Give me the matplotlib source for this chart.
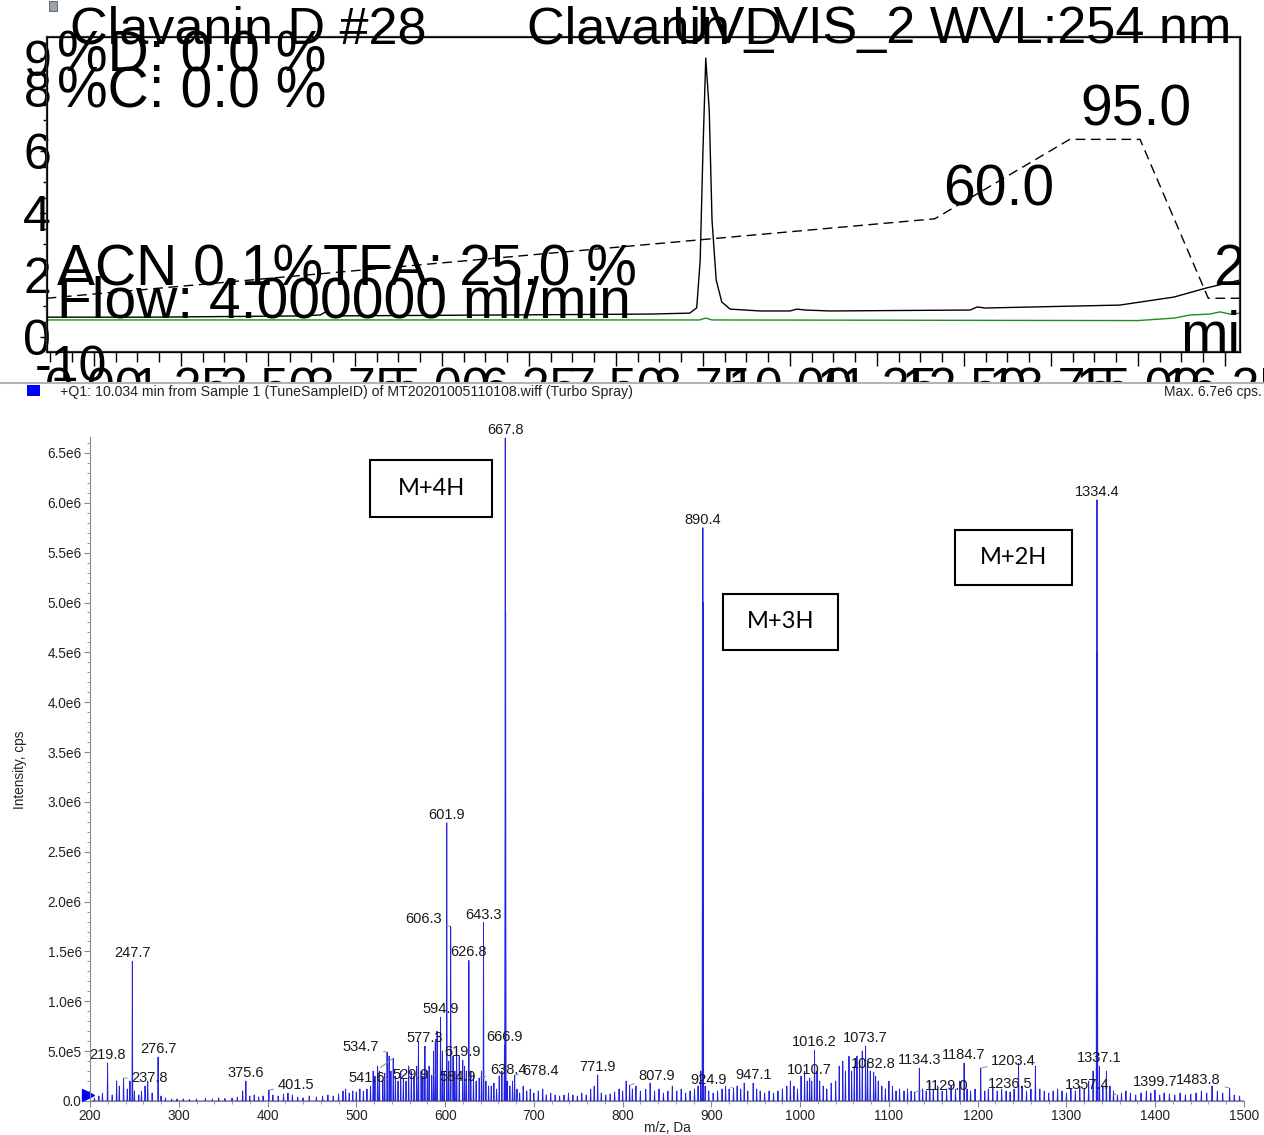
import numpy as np
import matplotlib
matplotlib.use("Agg")
import matplotlib.pyplot as plt
from matplotlib.patches import Rectangle
from matplotlib.lines import Line2D
from matplotlib.ticker import MultipleLocator

plt.rcParams['font.family'] = ['Liberation Sans', 'DejaVu Sans']

W, H = 1264, 1135

# ---------------- chromatogram, UV_VIS_2 at 254 nm ----------------
uv_time = [-0.68, 0.80, 2.96, 3.25, 3.33, 3.42, 5.83, 7.99, 8.56, 8.66, 8.71, 8.75,
           8.79, 8.84, 8.88, 8.94, 9.02, 9.14, 9.57, 10.00, 10.10, 10.22, 10.58,
           12.59, 12.69, 12.80, 14.74, 15.52, 15.98, 16.47]
uv_mau = [6.4, 6.4, 6.8, 7.1, 8.1, 6.8, 7.1, 7.4, 7.7, 9.4, 24.8, 60.3,
          90.0, 73.2, 37.7, 18.4, 11.3, 9.0, 8.4, 8.4, 9.0, 8.7, 8.4,
          8.7, 9.7, 9.35, 10.3, 12.9, 15.8, 18.4]

ref_time = [-0.68, 8.70, 8.79, 8.88, 15.00, 15.52, 15.75, 16.03, 16.18, 16.32, 16.47]
ref_mau = [5.5, 5.5, 6.1, 5.5, 5.3, 6.1, 7.1, 7.4, 8.1, 7.4, 7.7]

# ACN 0.1% TFA gradient (%)
grad_time = [-0.68, 12.08, 14.02, 15.03, 16.01, 16.47]
grad_pct = [25.0, 60.0, 95.0, 95.0, 25.0, 25.0]

uv_ticks = [0, 20, 40, 60, 80, 90]
uv_ticklabels = ['0', '2', '4', '6', '8', '9']
time_ticks = [0.0, 1.25, 2.5, 3.75, 5.0, 6.25, 7.5, 8.75, 10.0, 11.25,
              12.5, 13.75, 15.0, 16.25]
time_ticklabels = ['%.2f' % t for t in time_ticks]

# ---------------- Q1 spectrum at 10.034 min ----------------
label_mz = [219.8, 237.8, 247.7, 276.7, 375.6, 401.5, 529.9, 534.7, 541.6, 577.3,
            584.9, 594.9, 601.9, 606.3, 619.9, 626.8, 638.4, 643.3, 666.9, 667.8,
            678.4, 771.9, 807.9, 890.4, 924.9, 947.1, 1010.7, 1016.2, 1073.7, 1082.8,
            1129.0, 1134.3, 1184.7, 1203.4, 1236.5, 1334.4, 1337.1, 1357.4, 1399.7, 1483.8]
label_int = [0.38, 0.23, 1.40, 0.44, 0.20, 0.11, 0.21, 0.49, 0.43, 0.55,
             0.26, 0.84, 2.79, 1.75, 0.41, 1.41, 0.23, 1.79, 0.56, 6.65,
             0.26, 0.26, 0.16, 5.75, 0.13, 0.18, 0.23, 0.51, 0.55, 0.29,
             0.09, 0.33, 0.38, 0.33, 0.09, 6.03, 0.35, 0.06, 0.11, 0.13]  # x1e6

bg_mz = [205, 210, 214, 225, 230, 233, 242, 245, 250, 255, 258, 262, 265, 270, 280,
         285, 292, 298, 305, 312, 320, 330, 338, 345, 352, 360, 366, 372, 380, 385,
         390, 395, 406, 412, 418, 423, 428, 434, 440, 447, 455, 462, 468, 474, 480,
         485, 488, 492, 496, 500, 504, 508, 512, 516, 519, 521, 524, 526, 532, 537,
         539, 544, 547, 550, 553, 556, 559, 562, 565, 568, 570, 573, 575, 580, 582,
         587, 589, 591, 597, 599, 604, 609, 611, 613, 616, 622, 624, 629, 632, 635,
         641, 646, 649, 652, 655, 658, 661, 664, 668.2, 670, 673, 676, 681, 684, 688, 692,
         696, 700, 705, 710, 714, 719, 724, 729, 734, 739, 744, 749, 754, 759, 764,
         768, 776, 781, 786, 791, 796, 800, 804, 811, 815, 820, 826, 831, 836, 841,
         846, 851, 856, 861, 866, 871, 876, 881, 885, 888, 890.0, 890.8, 893, 897, 902,
         907, 912, 916, 920, 929, 933, 937, 941, 951, 955, 960, 965, 970, 975, 980,
         985, 989, 993, 997, 1001, 1005, 1008, 1013, 1019, 1022, 1026, 1030, 1035, 1040,
         1044, 1048, 1051, 1055, 1058, 1061, 1064, 1067, 1070, 1076, 1079, 1085, 1088,
         1092, 1096, 1100, 1104, 1108, 1112, 1117, 1121, 1125, 1138, 1142, 1146, 1150,
         1155, 1160, 1165, 1170, 1175, 1180, 1188, 1192, 1197, 1208, 1212, 1217, 1222,
         1227, 1232, 1241, 1246, 1250, 1255, 1260, 1265, 1270, 1275, 1280, 1285, 1290,
         1295, 1300, 1305, 1310, 1315, 1320, 1325, 1330, 1334.0, 1334.8, 1341, 1345,
         1349, 1353, 1362, 1367, 1372, 1378, 1384, 1390, 1395, 1405, 1410, 1416, 1422,
         1428, 1434, 1440, 1446, 1452, 1458, 1464, 1470, 1476, 1489, 1495]
bg_int = [0.03, 0.05, 0.08, 0.06, 0.20, 0.15, 0.12, 0.20, 0.10, 0.06, 0.10, 0.15, 0.20, 0.08, 0.05,
          0.03, 0.02, 0.02, 0.02, 0.015, 0.02, 0.025, 0.02, 0.03, 0.025, 0.03, 0.04, 0.10, 0.05, 0.06,
          0.04, 0.05, 0.06, 0.05, 0.07, 0.08, 0.06, 0.04, 0.03, 0.05, 0.04, 0.05, 0.06, 0.05, 0.07,
          0.10, 0.12, 0.08, 0.10, 0.09, 0.12, 0.10, 0.12, 0.15, 0.30, 0.25, 0.35, 0.30, 0.28, 0.45,
          0.30, 0.25, 0.20, 0.30, 0.22, 0.20, 0.35, 0.30, 0.25, 0.35, 0.60, 0.30, 0.25, 0.30, 0.35,
          0.50, 0.60, 0.70, 0.50, 0.30, 0.40, 0.45, 0.30, 0.50, 0.45, 0.35, 0.30, 0.30, 0.25, 0.20,
          0.30, 0.20, 0.15, 0.15, 0.18, 0.12, 0.25, 0.30, 4.90, 0.20, 0.15, 0.20, 0.12, 0.08, 0.15, 0.10,
          0.12, 0.08, 0.10, 0.12, 0.06, 0.08, 0.06, 0.05, 0.06, 0.08, 0.06, 0.05, 0.08, 0.06, 0.12,
          0.15, 0.08, 0.06, 0.07, 0.09, 0.12, 0.10, 0.20, 0.12, 0.15, 0.10, 0.12, 0.18, 0.10, 0.12,
          0.08, 0.10, 0.15, 0.10, 0.12, 0.08, 0.10, 0.12, 0.15, 0.30, 5.00, 5.00, 0.15, 0.10, 0.08,
          0.10, 0.12, 0.15, 0.12, 0.15, 0.12, 0.18, 0.10, 0.12, 0.10, 0.08, 0.10, 0.08, 0.10, 0.12,
          0.15, 0.20, 0.15, 0.12, 0.25, 0.30, 0.20, 0.20, 0.30, 0.20, 0.15, 0.12, 0.18, 0.20,
          0.35, 0.40, 0.30, 0.45, 0.30, 0.35, 0.45, 0.40, 0.50, 0.40, 0.30, 0.25, 0.20,
          0.15, 0.12, 0.20, 0.15, 0.10, 0.12, 0.10, 0.12, 0.10, 0.12, 0.10, 0.20, 0.12,
          0.15, 0.10, 0.12, 0.15, 0.12, 0.20, 0.12, 0.10, 0.12, 0.10, 0.12, 0.15, 0.10,
          0.12, 0.10, 0.12, 0.38, 0.15, 0.10, 0.12, 0.35, 0.12, 0.10, 0.08, 0.10, 0.12,
          0.10, 0.08, 0.12, 0.10, 0.15, 0.12, 0.20, 0.30, 4.50, 4.50, 0.15, 0.30,
          0.15, 0.10, 0.08, 0.10, 0.08, 0.06, 0.08, 0.10, 0.08, 0.06, 0.08, 0.07, 0.06,
          0.08, 0.06, 0.07, 0.08, 0.10, 0.08, 0.15, 0.10, 0.08, 0.06, 0.05]

ms_yticks = [0.0, 0.5, 1.0, 1.5, 2.0, 2.5, 3.0, 3.5, 4.0, 4.5, 5.0, 5.5, 6.0, 6.5]
ms_yticklabels = ['0.0', '5.0e5', '1.0e6', '1.5e6', '2.0e6', '2.5e6', '3.0e6', '3.5e6',
                  '4.0e6', '4.5e6', '5.0e6', '5.5e6', '6.0e6', '6.5e6']

charge_states = ['M+4H', 'M+3H', 'M+2H']

# label offsets (pixels) for the peaks whose labels are pushed aside with a leader
leader_offsets = {237.8: (26, 0), 401.5: (27, 5), 534.7: (-26, 5), 541.6: (-27, -20),
                  529.9: (28, 5), 584.9: (26, -2), 606.3: (-27, 8), 638.4: (29, 8),
                  678.4: (26, 4), 807.9: (27, 9), 924.9: (-25, 8), 1129.0: (32, 6),
                  1203.4: (33, 7), 1357.4: (-30, 10), 1483.8: (-31, 8)}


def fx(px):
    return px / W


def fy(py):
    return 1 - py / H


fig = plt.figure(figsize=(W / 100, H / 100), dpi=100)

# ---- chromatogram panel ----
ax = fig.add_axes([fx(47), fy(352), fx(1240 - 47), (352 - 37) / H], zorder=1)
ax.plot(uv_time, uv_mau, color='black', lw=1.0)
ax.plot(ref_time, ref_mau, color='#1e8c1e', lw=1.0)
ax.set_xlim(-0.675, 16.466)
ax.set_ylim(-4.84, 96.8)
ax.set_yticks(uv_ticks)
ax.set_yticklabels(uv_ticklabels)
ax.yaxis.set_minor_locator(MultipleLocator(5))
ax.set_xticks(time_ticks)
ax.set_xticklabels(time_ticklabels)
ax.xaxis.set_minor_locator(MultipleLocator(0.3125))
ax.tick_params(axis='y', which='major', length=5, pad=-8, labelsize=36, width=1)
ax.tick_params(axis='y', which='minor', length=3, width=1)
ax.tick_params(axis='x', which='major', length=10, pad=1, labelsize=36, width=1)
ax.tick_params(axis='x', which='minor', length=7, width=1)
for s in ax.spines.values():
    s.set_color('#333333')
    s.set_linewidth(1.6)

ax2 = ax.twinx()
ax2.plot(grad_time, grad_pct, color='black', lw=1.0, dashes=(7, 4))
ax2.set_ylim(1.32, 140.1)
ax2.set_yticks([])
ax2.text(15.6, 0, 'min', transform=ax2.get_xaxis_transform(), fontsize=41,
         va='baseline', ha='left', clip_on=True)
ax2.text(16.08, 30.8, '25.0', fontsize=41, va='baseline', ha='left', clip_on=True)

big = 41
fig.text(fx(943), fy(205), '60.0', fontsize=big, va='baseline')
fig.text(fx(1080), fy(125), '95.0', fontsize=big, va='baseline')
fig.text(fx(57), fy(285), 'ACN 0.1%TFA: 25.0 %', fontsize=big, va='baseline')
fig.text(fx(57), fy(318), 'Flow: 4.000000 ml/min', fontsize=big, va='baseline')
fig.text(fx(57), fy(72), '%D: 0.0 %', fontsize=big, va='baseline')
fig.text(fx(57), fy(107), '%C: 0.0 %', fontsize=big, va='baseline')
fig.text(fx(70), fy(43), 'Clavanin D #28', fontsize=37.5, va='baseline')
fig.text(fx(527), fy(43), 'Clavanin D', fontsize=37.5, va='baseline')
fig.text(fx(672), fy(43), 'UV_VIS_2 WVL:254 nm', fontsize=37.5, va='baseline')
fig.text(fx(35), fy(368), '-10', fontsize=36, va='center', ha='left')
fig.add_artist(Rectangle((fx(49), fy(11)), 8 / W, 10 / H, transform=fig.transFigure,
                         facecolor='#9aa4b0', edgecolor='#555555', lw=0.6))

# white sheet that the spectrum panel sits on
sheet = fig.add_axes([0, 0, 1, fy(383)], zorder=3.5)
sheet.set_facecolor('white')
sheet.set_xticks([])
sheet.set_yticks([])
for s in sheet.spines.values():
    s.set_visible(False)

fig.add_artist(Line2D([0, 1], [fy(383), fy(383)], transform=fig.transFigure,
                      color='#b4b4b4', lw=1.5, zorder=5))
fig.add_artist(Rectangle((fx(27), fy(396)), 13 / W, 11 / H, transform=fig.transFigure,
                         facecolor='#0000ff', edgecolor='none', zorder=5))
fig.text(fx(60), fy(392), '+Q1: 10.034 min from Sample 1 (TuneSampleID) of '
         'MT20201005110108.wiff (Turbo Spray)', fontsize=10.2, va='center',
         color='#222222', zorder=5)
fig.text(fx(1262), fy(392), 'Max. 6.7e6 cps.', fontsize=10, va='center', ha='right',
         color='#222222', zorder=5)

# ---- mass spectrum panel ----
ms = fig.add_axes([fx(90), fy(1101), fx(1244 - 90), (1101 - 437) / H], zorder=4)
ms.set_facecolor('none')

mz_all = np.array(label_mz + bg_mz)
it_all = np.array(label_int + bg_int)
order = np.argsort(mz_all)
prof_x, prof_y = [200.0], [0.0]
for m, h in zip(mz_all[order], it_all[order]):
    prof_x += [m - 0.45, m, m + 0.45]
    prof_y += [0.0, h, 0.0]
prof_x.append(1500.0)
prof_y.append(0.0)
ms.plot(prof_x, prof_y, color='#2222e0', lw=0.65)

ms.set_xlim(200, 1500)
ms.set_ylim(0, 6.66)
ms.set_yticks(ms_yticks)
ms.set_yticklabels(ms_yticklabels)
ms.yaxis.set_minor_locator(MultipleLocator(0.1))
ms.xaxis.set_major_locator(MultipleLocator(100))
ms.xaxis.set_minor_locator(MultipleLocator(20))
ms.tick_params(which='major', length=4, color='#888888', labelsize=9.8,
               labelcolor='#222222', pad=2)
ms.tick_params(which='minor', length=2, color='#888888')
for side in ['top', 'right']:
    ms.spines[side].set_visible(False)
for side in ['left', 'bottom']:
    ms.spines[side].set_color('#888888')
ms.plot([197.5], [0.06], marker='>', color='#0000ff', markersize=8, clip_on=False)

for m, h in zip(label_mz, label_int):
    if m in leader_offsets:
        dx, dy = leader_offsets[m]
        ms.annotate('%.1f' % m, xy=(m, h), xytext=(dx, dy), textcoords='offset pixels',
                    ha='center', va='center', fontsize=10.5, color='#1a1a1a',
                    annotation_clip=False,
                    arrowprops=dict(arrowstyle='-', color='#888888', lw=0.7,
                                    shrinkA=1, shrinkB=1))
    else:
        ms.annotate('%.1f' % m, xy=(m, h), xytext=(0, 8), textcoords='offset pixels',
                    ha='center', va='center', fontsize=10.5, color='#1a1a1a',
                    annotation_clip=False)

fig.text(fx(20), fy(770), 'Intensity, cps', rotation=90, fontsize=9.8, ha='center',
         va='center', color='#222222', zorder=5)
fig.text(fx(667), fy(1128), 'm/z, Da', fontsize=9.8, ha='center', va='center',
         color='#222222', zorder=5)

# charge-state boxes
boxes = [(370, 460, 122, 57), (723, 594, 115, 56), (955, 530, 117, 55)]
for name, (bx, by, bw, bh) in zip(charge_states, boxes):
    fig.add_artist(Rectangle((fx(bx), fy(by + bh)), bw / W, bh / H,
                             transform=fig.transFigure, fill=False,
                             edgecolor='black', lw=1.5, zorder=6))
    fig.text(fx(bx + bw / 2), fy(by + bh / 2), name, fontsize=17, family='Lato',
             ha='center', va='center', zorder=6)

fig.savefig('out.png', dpi=100)
